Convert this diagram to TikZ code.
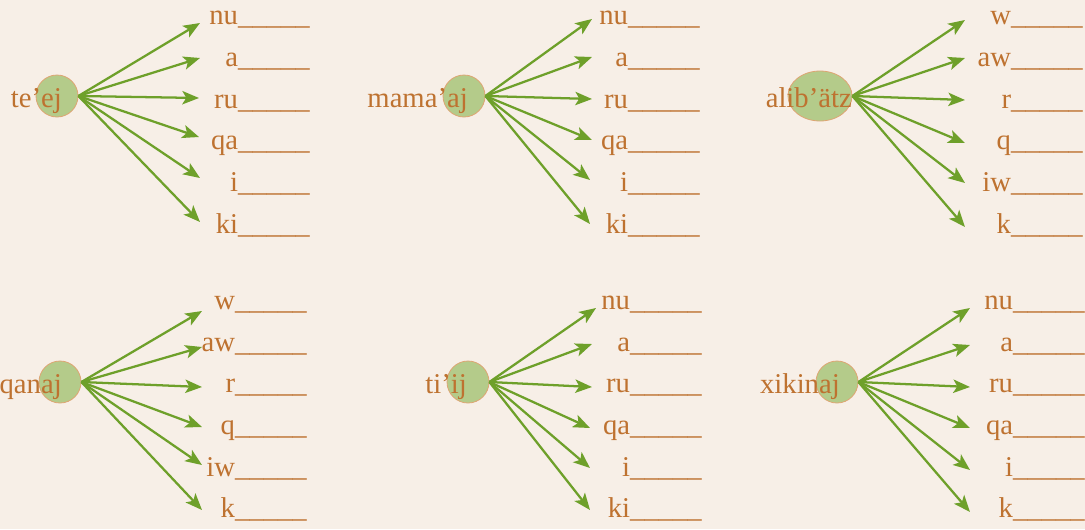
\documentclass[tikz,border=0pt]{standalone}
\usepackage{fontspec}
\setmainfont{Liberation Serif}
\usetikzlibrary{arrows.meta,shapes.geometric}
\definecolor{bg}{RGB}{247,239,231}
\definecolor{txt}{RGB}{190,114,48}
\definecolor{arr}{RGB}{110,160,42}
\definecolor{hub}{RGB}{180,203,138}
\definecolor{hubline}{RGB}{222,165,115}
\tikzset{
  hubnode/.style={circle, fill=hub, draw=hubline, line width=0.6pt, inner sep=0pt, minimum size=31.5pt},
  hubell/.style={ellipse, fill=hub, draw=hubline, line width=0.6pt, inner sep=0pt, minimum width=48pt, minimum height=37.5pt},
  word/.style={text=txt, font=\fontsize{21.5pt}{24pt}\selectfont, inner sep=0pt, anchor=base east},
  lab/.style={text=txt, font=\fontsize{21.5pt}{24pt}\selectfont, inner sep=0pt, anchor=base east},
  fanarrow/.style={draw=arr, line width=1.7pt, -{Stealth[length=12.5pt,width=10pt,inset=3pt]}}
}
\begin{document}
\begin{tikzpicture}[x=0.75pt,y=-0.75pt]
\fill[bg] (0,0) rectangle (1085,529);
\useasboundingbox (0,0) rectangle (1085,529);

% group 1
\node[hubnode] (h1) at (57,96) {};
\node[word] (w1) at (62,107) {te’ej};
\foreach \ix/\lbl/\by/\tx/\ty in {1/nu/24/200/23, 2/a/66/200/58, 3/ru/108/199/98, 4/qa/149/199/137, 5/i/191/200/178, 6/ki/233/200/222} {
  \coordinate (t1-\ix) at (\tx,\ty);
  \node[lab] (l1-\ix) at (310,\by) {\lbl\_\_\_\_\_};
  \draw[fanarrow] (h1.east) -- (t1-\ix);
}

% group 2
\node[hubnode] (h2) at (464,96) {};
\node[word] (w2) at (468,107) {mama’aj};
\foreach \ix/\lbl/\by/\tx/\ty in {1/nu/24/592/19, 2/a/66/592/57, 3/ru/108/592/99, 4/qa/149/592/140, 5/i/191/590/180, 6/ki/233/590/224} {
  \coordinate (t2-\ix) at (\tx,\ty);
  \node[lab] (l2-\ix) at (700,\by) {\lbl\_\_\_\_\_};
  \draw[fanarrow] (h2.east) -- (t2-\ix);
}

% group 3
\node[hubell] (h3) at (820,96) {};
\node[word] (w3) at (852,107) {alib’ätz};
\foreach \ix/\lbl/\by/\tx/\ty in {1/w/24/965/20, 2/aw/66/965/58, 3/r/108/965/100, 4/q/149/965/143, 5/iw/191/965/183, 6/k/233/965/227} {
  \coordinate (t3-\ix) at (\tx,\ty);
  \node[lab] (l3-\ix) at (1083,\by) {\lbl\_\_\_\_\_};
  \draw[fanarrow] (h3.east) -- (t3-\ix);
}

% group 4
\node[hubnode] (h4) at (60,382) {};
\node[word] (w4) at (62,393) {qanaj};
\foreach \ix/\lbl/\by/\tx/\ty in {1/w/309/202/311, 2/aw/351/202/347, 3/r/392/202/387, 4/q/434/202/427, 5/iw/476/202/465, 6/k/517/202/510} {
  \coordinate (t4-\ix) at (\tx,\ty);
  \node[lab] (l4-\ix) at (307,\by) {\lbl\_\_\_\_\_};
  \draw[fanarrow] (h4.east) -- (t4-\ix);
}

% group 5
\node[hubnode] (h5) at (468,382) {};
\node[word] (w5) at (467,393) {ti’ij};
\foreach \ix/\lbl/\by/\tx/\ty in {1/nu/309/596/308, 2/a/351/592/344, 3/ru/392/592/387, 4/qa/434/590/428, 5/i/476/590/468, 6/ki/517/590/510} {
  \coordinate (t5-\ix) at (\tx,\ty);
  \node[lab] (l5-\ix) at (702,\by) {\lbl\_\_\_\_\_};
  \draw[fanarrow] (h5.east) -- (t5-\ix);
}

% group 6
\node[hubnode] (h6) at (837,382) {};
\node[word] (w6) at (840,393) {xikinaj};
\foreach \ix/\lbl/\by/\tx/\ty in {1/nu/309/970/308, 2/a/351/970/345, 3/ru/392/970/387, 4/qa/434/970/428, 5/i/476/970/470, 6/k/517/970/512} {
  \coordinate (t6-\ix) at (\tx,\ty);
  \node[lab] (l6-\ix) at (1085,\by) {\lbl\_\_\_\_\_};
  \draw[fanarrow] (h6.east) -- (t6-\ix);
}
\end{tikzpicture}
\end{document}
